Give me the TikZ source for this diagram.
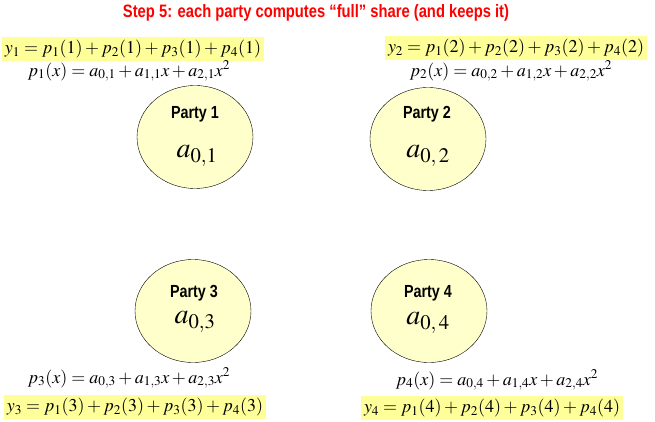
\documentclass[tikz,border=0pt]{standalone}
\usepackage{mathptmx}
\usepackage[no-math]{fontspec}
\newfontfamily\narrowsans[FakeStretch=0.82]{Liberation Sans}
\usetikzlibrary{shapes.geometric}
\definecolor{partyfill}{HTML}{FFFFCC}
\definecolor{sharefill}{HTML}{FFFF99}
\definecolor{steptitle}{HTML}{FF0000}

\begin{document}
\begin{tikzpicture}[x=1pt,y=-1pt,
  party node/.style={ellipse,draw,fill=partyfill,minimum width=116pt,minimum height=103pt},
  party name/.style={font=\narrowsans\bfseries\fontsize{17.5}{20}\selectfont},
  secret/.style={font=\fontsize{28}{30}\selectfont},
  poly/.style={font=\fontsize{18}{21}\selectfont,inner sep=1pt},
  share/.style={poly,fill=sharefill,inner sep=3pt}]
  \useasboundingbox (0,0) rectangle (655,422);

  \node[font=\narrowsans\bfseries\fontsize{18}{20}\selectfont,text=steptitle] (title) at (316,13)
    {Step 5: each party computes “full” share (and keeps it)};

  % parties
  \node[party node] (1) at (195,137) {};
  \node[party node] (2) at (428,139) {};
  \node[party node] (3) at (193,311) {};
  \node[party node] (4) at (429,311) {};

  \node[party name] (n1) at (195,114) {Party 1};
  \node[party name] (n2) at (427,114) {Party 2};
  \node[party name] (n3) at (194,293) {Party 3};
  \node[party name] (n4) at (428,293) {Party 4};

  \node[secret] (s1) at (197,156) {$a_{0,1}$};
  \node[secret] (s2) at (428,156) {$a_{0,\,2}$};
  \node[secret] (s3) at (195,322) {$a_{0,3}$};
  \node[secret] (s4) at (428,323) {$a_{0,\,4}$};

  % polynomials and full shares
  \node[share] (y1) at (133,49) {$y_1 = p_1(1)+p_2(1)+p_3(1)+p_4(1)$};
  \node[poly] (f1) at (129,71) {$p_1(x)=a_{0,1}+a_{1,1}x+a_{2,1}x^2$};
  \node[share] (y2) at (516,48) {$y_2 = p_1(2)+p_2(2)+p_3(2)+p_4(2)$};
  \node[poly] (f2) at (511,71) {$p_2(x)=a_{0,2}+a_{1,2}x+a_{2,2}x^2$};
  \node[poly] (f3) at (129,378) {$p_3(x)=a_{0,3}+a_{1,3}x+a_{2,3}x^2$};
  \node[share] (y3) at (135,407) {$y_3 = p_1(3)+p_2(3)+p_3(3)+p_4(3)$};
  \node[poly] (f4) at (497,380) {$p_4(x)=a_{0,4}+a_{1,4}x+a_{2,4}x^2$};
  \node[share] (y4) at (492,408) {$y_4 = p_1(4)+p_2(4)+p_3(4)+p_4(4)$};
\end{tikzpicture}
\end{document}
